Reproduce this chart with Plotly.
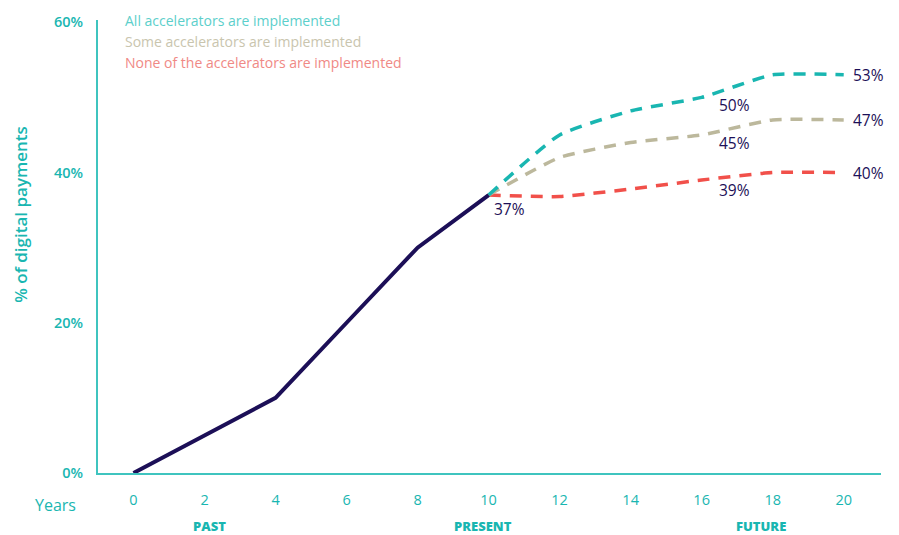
import plotly.graph_objects as go

# Historical adoption of digital payments (years, share %)
past_years = [0, 2, 4, 6, 8, 10]
past_share = [0, 5, 10, 20, 30, 37]

# Projected scenarios from the present (year 10) onward
future_years = [10, 12, 14, 16, 18, 20]
all_accel = [37, 45, 48.2, 50, 53, 53]
some_accel = [37, 42, 44, 45, 47, 47]
none_accel = [37, 36.8, 37.8, 39, 40, 40]

scenario_names = [
    "All accelerators are implemented",
    "Some accelerators are implemented",
    "None of the accelerators are implemented",
]

x_ticks = [0, 2, 4, 6, 8, 10, 12, 14, 16, 18, 20]
y_ticks = [0, 20, 40, 60]
period_labels = ["PAST", "PRESENT", "FUTURE"]
period_pos = [2.14, 9.85, 17.66]

TEAL = "#19b6b1"
AXIS = "#3fc4bf"
NAVY = "#1c0f57"
BEIGE = "#bcb89c"
RED = "#f1504a"
FONT = "Open Sans"

fig = go.Figure()

fig.add_trace(go.Scatter(x=future_years, y=none_accel, mode="lines",
                         line=dict(color=RED, width=3.5, dash="12px,9px", shape="spline", smoothing=0.5),
                         hoverinfo="skip"))
fig.add_trace(go.Scatter(x=future_years, y=some_accel, mode="lines",
                         line=dict(color=BEIGE, width=3.5, dash="12px,9px", shape="spline", smoothing=0.5),
                         hoverinfo="skip"))
fig.add_trace(go.Scatter(x=future_years, y=all_accel, mode="lines",
                         line=dict(color=TEAL, width=3.5, dash="12px,9px", shape="spline", smoothing=0.5),
                         hoverinfo="skip"))
fig.add_trace(go.Scatter(x=past_years, y=past_share, mode="lines",
                         line=dict(color=NAVY, width=4),
                         hoverinfo="skip"))

plot_w = 899 - 98 - 18
plot_h = 535 - 15 - 62

annotations = []

# Value labels next to the scenario lines
def value_label(x, y, xshift, yshift):
    annotations.append(dict(x=x, y=y, xref="x", yref="y", text=f"{y:g}%",
                            showarrow=False, xanchor="left", yanchor="middle",
                            xshift=xshift, yshift=yshift,
                            font=dict(family=FONT, size=15.5, color=NAVY, weight=500)))

value_label(past_years[-1], past_share[-1], 3, -14)
value_label(future_years[3], all_accel[3], 15, -8)
value_label(future_years[3], some_accel[3], 15, -8)
value_label(future_years[3], none_accel[3], 15, -10)
value_label(future_years[-1], all_accel[-1], 7, 0)
value_label(future_years[-1], some_accel[-1], 7, 0)
value_label(future_years[-1], none_accel[-1], 7, 0)

# Scenario key in the top-left of the plot area (pixel positions -> paper)
key_colors = ["#5ccfcb", "#c9c5ae", "#f08985"]
for i, (name, col) in enumerate(zip(scenario_names, key_colors)):
    px, py = 123, 16 + 21 * i
    annotations.append(dict(x=(px - 98) / plot_w, y=1 - (py - 15) / plot_h,
                            xref="paper", yref="paper",
                            text=name, showarrow=False, xanchor="left", yanchor="middle",
                            font=dict(family=FONT, size=14, color=col)))

# Period labels under the x axis
for lab, px in zip(period_labels, period_pos):
    annotations.append(dict(x=px, y=0, xref="x", yref="paper", text=lab,
                            showarrow=False, xanchor="center", yanchor="middle",
                            yshift=-53, font=dict(family=FONT, size=13, color=TEAL, weight=800)))

# "Years" label left of the x tick labels
annotations.append(dict(x=0, y=0, xref="paper", yref="paper", text="Years",
                        showarrow=False, xanchor="right", yanchor="middle",
                        xshift=-20, yshift=-32,
                        font=dict(family=FONT, size=16, color=TEAL, weight=500)))

# Y axis title
annotations.append(dict(x=0, y=0.57, xref="paper", yref="paper",
                        text="% of digital payments", textangle=-90,
                        showarrow=False, xanchor="center", yanchor="middle",
                        xshift=-77, font=dict(family=FONT, size=17, color=TEAL, weight=600)))

fig.update_layout(
    width=899, height=535,
    margin=dict(l=98, r=18, t=15, b=62),
    paper_bgcolor="white", plot_bgcolor="white",
    showlegend=False,
    annotations=annotations,
    xaxis=dict(range=[-1, 21.05], tickvals=x_ticks, ticktext=[str(v) for v in x_ticks],
               showgrid=False, zeroline=False, showline=True, linecolor=AXIS, linewidth=2,
               ticks="", ticklabelstandoff=13,
               tickfont=dict(family=FONT, size=14.5, color=TEAL, weight=500), fixedrange=True),
    yaxis=dict(range=[0, 60.3], tickvals=y_ticks, ticktext=[f"{v}%" for v in y_ticks],
               showgrid=False, zeroline=False, showline=True, linecolor=AXIS, linewidth=2,
               ticks="", ticklabelstandoff=10,
               tickfont=dict(family=FONT, size=14.5, color=TEAL, weight=600), fixedrange=True),
)

fig.write_html("out.html")
